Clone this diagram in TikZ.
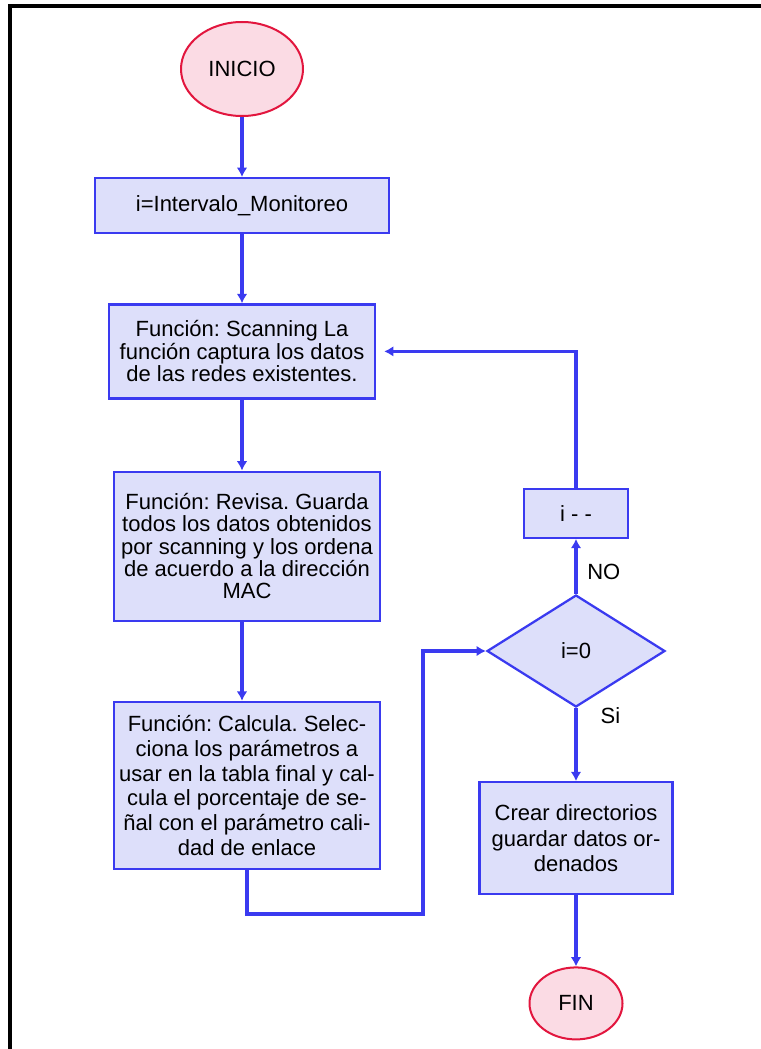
\documentclass[tikz,border=0pt]{standalone}
\usepackage{fontspec}
\setmainfont{Liberation Sans}
\frenchspacing
\usetikzlibrary{positioning, arrows.meta, shapes.geometric}
\definecolor{azul}{RGB}{58,58,240}
\definecolor{lila}{RGB}{221,223,250}
\definecolor{rojo}{RGB}{226,22,62}
\definecolor{rosa}{RGB}{251,219,228}
\tikzset{
	>={Latex[length=7pt,width=8pt]},
	node distance=2cm,
	flecha/.style={->, azul, line width=2.3pt},
	proceso/.style={rectangle, draw=azul, fill=lila, line width=1.7pt, align=center, inner sep=2pt, font=\fontsize{16.5}{16.8}\selectfont},
	decision/.style={diamond, draw=azul, fill=lila, line width=1.7pt, inner sep=0pt, font=\fontsize{16.5}{16.8}\selectfont},
	terminal/.style={ellipse, draw=rojo, fill=rosa, line width=1.5pt, font=\fontsize{16.5}{16.8}\selectfont},
	etiqueta/.style={font=\fontsize{16.5}{16.8}\selectfont, text=black}}

\begin{document}
\begin{tikzpicture}
		\useasboundingbox (0,0) rectangle (570pt,-786.75pt);
		\draw[line width=2.8pt] (7.5pt,-800pt) -- (7.5pt,-4.5pt) -- (580pt,-4.5pt);
		
		\node[terminal, minimum width=91.5pt, minimum height=70.5pt] (inicio) at (181.5pt,-51.75pt) {INICIO};
		\node[proceso, minimum width=220.5pt, minimum height=41.25pt, below=45pt of inicio] (intervalo) {i=Intervalo\_Monitoreo};
		\node[proceso, minimum width=199.5pt, minimum height=70.5pt, below=51.75pt of intervalo] (scanning) {Función: Scanning La\\función captura los datos\\de las redes existentes.};
		\node[proceso, minimum width=199.5pt, minimum height=111.75pt, below=53.25pt of scanning, xshift=3.75pt] (revisa) {Función: Revisa. Guarda\\todos los datos obtenidos\\por scanning y los ordena\\de acuerdo a la dirección\\MAC};
		\node[proceso, minimum width=199.5pt, minimum height=125.25pt, below=59.25pt of revisa, font=\fontsize{16.5}{18.5}\selectfont] (calcula) {Función: Calcula. Selec-\\ciona los parámetros a\\usar en la tabla final y cal-\\cula el porcentaje de se-\\ñal con el parámetro cali-\\dad de enlace};
		
		\node[decision, minimum width=133.5pt, minimum height=84pt] (cond) at (432pt,-488.25pt) {i=0};
		\node[proceso, minimum width=78pt, minimum height=36.75pt, above=41.25pt of cond] (decremento) {i - -};
		\node[proceso, minimum width=144.75pt, minimum height=84pt, below=54.75pt of cond, font=\fontsize{16.5}{19}\selectfont] (crear) {Crear directorios\\guardar datos or-\\denados};
		\node[terminal, minimum width=69.75pt, minimum height=54pt, below=53.25pt of crear] (fin) {FIN};
		\coordinate (bend) at (317.25pt,-685.5pt);
		
		\draw[flecha] (inicio) -- (intervalo);
		\draw[flecha] (intervalo) -- (scanning);
		\draw[flecha] (scanning) -- (scanning |- revisa.north);
		\draw[flecha] (revisa.south -| scanning) -- (scanning |- calcula.north);
		\draw[flecha] (calcula.south) |- (bend) |- (cond.west);
		\draw[flecha] (cond) -- node[etiqueta, right, pos=0.4, xshift=4pt] {NO} (decremento);
		\draw[flecha, shorten >=6pt] (decremento) |- (scanning);
		\draw[flecha] (cond) -- node[etiqueta, right, pos=0.1, xshift=14pt] {Si} (crear);
		\draw[flecha] (crear) -- (fin);
	\end{tikzpicture}
\end{document}
